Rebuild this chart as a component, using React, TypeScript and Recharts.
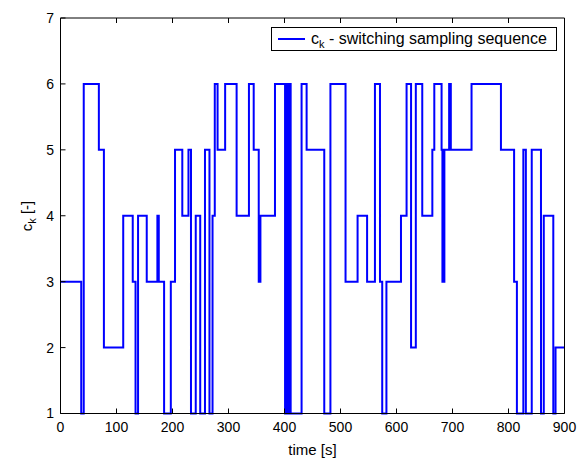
import { LineChart, Line, XAxis, YAxis, Legend } from 'recharts'

// switching instants [s] and the sampling-sequence index c_k held from each instant
const switchTimes = [
  0, 37, 41.5, 68.5, 77.5, 112, 129, 134, 138.5, 154, 173, 175.5, 185, 197, 204.5,
  217.5, 228.5, 233, 241.5, 249.5, 258, 266, 271.5, 275.5, 280.5, 294, 314.5, 336.5,
  345, 354, 357, 383, 401, 403.5, 406, 408.5, 411, 430.5, 439.5, 471, 482, 509, 530.5,
  547.5, 561.5, 570.5, 574.5, 582, 608, 618, 626, 634.5, 646, 664, 667.5, 680.5, 682,
  685.5, 694, 697, 734, 786.5, 810, 815, 826.5, 831, 841.5, 858, 863, 880, 884,
]
const switchLevels = [
  3, 1, 6, 5, 2, 4, 3, 1, 4, 3, 4, 3, 1, 3, 5,
  4, 5, 1, 4, 1, 5, 1, 4, 6, 5, 6, 4, 6,
  5, 3, 4, 6, 1, 6, 1, 6, 1, 6, 5, 1, 6, 3, 4,
  3, 6, 3, 1, 3, 4, 6, 2, 6, 4, 5, 6, 5, 3,
  5, 6, 5, 6, 5, 3, 1, 5, 1, 5, 1, 4, 1, 2,
]
const endTime = 900

const xTicks = [0, 100, 200, 300, 400, 500, 600, 700, 800, 900]
const yTicks = [1, 2, 3, 4, 5, 6, 7]

const chartData = switchTimes.map((t, i) => ({ t, c: switchLevels[i] }))
chartData.push({ t: endTime, c: switchLevels[switchLevels.length - 1] })

const BLUE = '#0000ff'
const FONT = '"Liberation Sans", Arial, Helvetica, sans-serif'
const tickStyle = { fill: '#000', fontSize: 14 }
const noLabel = () => <g />

function XLabel() {
  return (
    <text x={312.5} y={455} textAnchor="middle" fontSize={15} fill="#000">
      time [s]
    </text>
  )
}

function YLabel() {
  return (
    <text x={32} y={216} transform="rotate(-90, 32, 216)" textAnchor="middle" fontSize={15} fill="#000">
      c<tspan dy={4} fontSize={11}>k</tspan>
      <tspan dy={-4}> [-]</tspan>
    </text>
  )
}

function LegendBox() {
  return (
    <svg width={286} height={24} style={{ display: 'block' }}>
      <rect x={0.5} y={0.5} width={285} height={23} fill="#fff" stroke="#000" strokeWidth={1} />
      <line x1={7} y1={12} x2={34} y2={12} stroke={BLUE} strokeWidth={2} />
      <text x={40} y={17} fontSize={16} fill="#000">
        c<tspan dy={4} fontSize={11}>k</tspan>
        <tspan dy={-4}> - switching sampling sequence</tspan>
      </text>
    </svg>
  )
}

export default function App() {
  return (
    <div style={{ position: 'absolute', left: 0, top: 0, background: '#fff' }}>
      <LineChart
        width={583}
        height={459}
        data={chartData}
        margin={{ top: 17, right: 17.5, bottom: 0, left: 0 }}
        style={{ fontFamily: FONT }}
      >
        <XAxis
          dataKey="t"
          type="number"
          domain={[0, 900]}
          ticks={xTicks}
          interval={0}
          height={45.5}
          tickSize={-5}
          tickMargin={13.5}
          tick={tickStyle}
          axisLine={{ stroke: '#000' }}
          tickLine={{ stroke: '#000' }}
          label={<XLabel />}
        />
        <XAxis
          xAxisId="top"
          orientation="top"
          dataKey="t"
          type="number"
          domain={[0, 900]}
          ticks={xTicks}
          interval={0}
          height={1}
          tickSize={-5}
          tick={noLabel}
          axisLine={{ stroke: '#000' }}
          tickLine={{ stroke: '#000' }}
        />
        <YAxis
          type="number"
          domain={[1, 7]}
          ticks={yTicks}
          interval={0}
          width={60.5}
          tickSize={-5}
          tickMargin={11.5}
          tick={tickStyle}
          axisLine={{ stroke: '#000' }}
          tickLine={{ stroke: '#000' }}
          label={<YLabel />}
        />
        <YAxis
          yAxisId="right"
          orientation="right"
          type="number"
          domain={[1, 7]}
          ticks={yTicks}
          interval={0}
          width={1}
          tickSize={-5}
          tick={noLabel}
          axisLine={{ stroke: '#000' }}
          tickLine={{ stroke: '#000' }}
        />
        <Legend
          verticalAlign="middle"
          align="center"
          layout="horizontal"
          content={() => <LegendBox />}
          wrapperStyle={{ top: 27, left: 271, width: 286, height: 24 }}
        />
        <Line
          dataKey="c"
          type="stepAfter"
          stroke={BLUE}
          strokeWidth={2}
          dot={false}
          activeDot={false}
          isAnimationActive={false}
        />
      </LineChart>
    </div>
  )
}
